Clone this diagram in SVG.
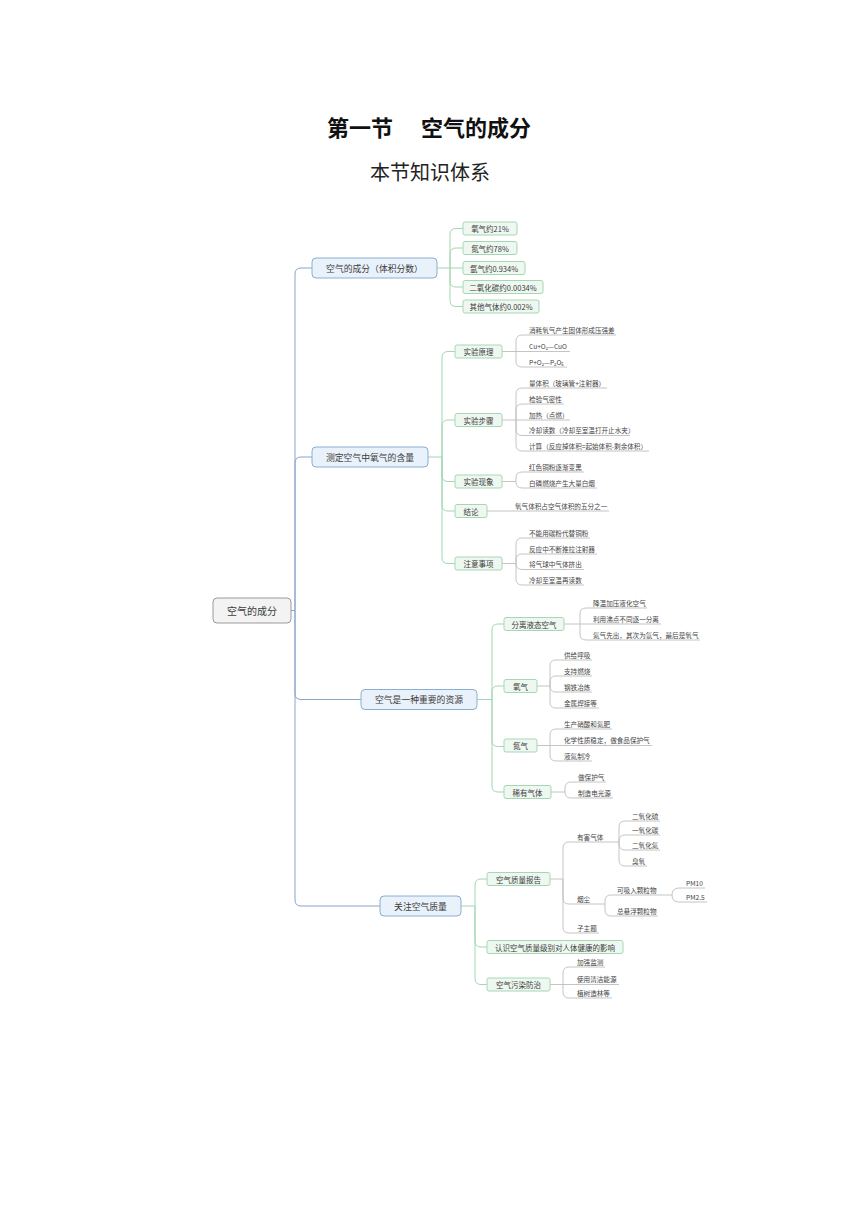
<svg xmlns="http://www.w3.org/2000/svg" width="860" height="1216" viewBox="0 0 860 1216">
<style>
text{font-family:"Noto Sans CJK SC","Noto Sans",sans-serif;fill:#3c3c3c}
.title{font-size:22px;font-weight:bold;fill:#111}
.sub{font-size:20px;fill:#222}
.root rect{fill:#f3f3f3;stroke:#9a9a9a;stroke-width:1}
.n1 rect{fill:#e9f1fa;stroke:#8aaed2;stroke-width:1}
.n2 rect{fill:#eef8f1;stroke:#a6d7b4;stroke-width:1}
.root text{font-size:10px;text-anchor:middle;dominant-baseline:central}
.n1 text{font-size:8.8px;text-anchor:middle;dominant-baseline:central}
.n2 text{font-size:7.5px;text-anchor:middle;dominant-baseline:central}
.leaf text{font-size:6.6px;fill:#444}
.c0{fill:none;stroke:#86a5c8;stroke-width:1}
.c1{fill:none;stroke:#a3d6b2;stroke-width:1}
.c2{fill:none;stroke:#bdbdbd;stroke-width:0.9}
</style>

<g id="heading">
<text class="title" y="136"><tspan x="327">第一节</tspan><tspan x="421">空气的成分</tspan></text>
<text class="sub" x="370" y="179.5">本节知识体系</text>
</g>

<g id="connectors">
<path class="c0" d="M291,610.5 H295 V274 Q295,268 301,268 H312"/>
<path class="c0" d="M295,610.5 V463 Q295,457 301,457 H312"/>
<path class="c0" d="M295,610.5 V693.5 Q295,699.5 301,699.5 H361"/>
<path class="c0" d="M295,610.5 V900 Q295,906 301,906 H380"/>
<path class="c1" d="M437,268 H450 V234.5 Q450,228.5 456,228.5 H463"/>
<path class="c1" d="M450,268 V254 Q450,248 456,248 H463"/>
<path class="c1" d="M450,268 H463"/>
<path class="c1" d="M450,268 V281 Q450,287 456,287 H463"/>
<path class="c1" d="M450,268 V300.5 Q450,306.5 456,306.5 H463"/>
<path class="c1" d="M428,457 H442 V357.5 Q442,351.5 448,351.5 H455"/>
<path class="c1" d="M442,457 V426 Q442,420 448,420 H455"/>
<path class="c1" d="M442,457 V475.5 Q442,481.5 448,481.5 H455"/>
<path class="c1" d="M442,457 V505 Q442,511 448,511 H455"/>
<path class="c1" d="M442,457 V557.5 Q442,563.5 448,563.5 H455"/>
<path class="c1" d="M477,699.5 H492 V630 Q492,624 498,624 H504"/>
<path class="c1" d="M492,699.5 V692 Q492,686 498,686 H504"/>
<path class="c1" d="M492,699.5 V740.5 Q492,746.5 498,746.5 H504"/>
<path class="c1" d="M492,699.5 V786 Q492,792 498,792 H504"/>
<path class="c1" d="M461,906 H475 V885 Q475,879 481,879 H487"/>
<path class="c1" d="M475,906 V941 Q475,947 481,947 H487"/>
<path class="c1" d="M475,906 V978.5 Q475,984.5 481,984.5 H487"/>
<path class="c2" d="M502,351.5 H516 V341 Q516,335 522,335 H616"/>
<path class="c2" d="M516,351.5 H570"/>
<path class="c2" d="M516,351.5 V361 Q516,367 522,367 H567"/>
<path class="c2" d="M502,420 H516 V394 Q516,388 522,388 H607"/>
<path class="c2" d="M516,420 V410 Q516,404 522,404 H564"/>
<path class="c2" d="M516,420 H570"/>
<path class="c2" d="M516,420 V429.5 Q516,435.5 522,435.5 H630"/>
<path class="c2" d="M516,420 V445 Q516,451 522,451 H649"/>
<path class="c2" d="M502,481.5 H516 V478 Q516,472 522,472 H584"/>
<path class="c2" d="M516,481.5 V482 Q516,488 522,488 H597"/>
<path class="c2" d="M487,511 H609"/>
<path class="c2" d="M502,563.5 H516 V544 Q516,538 522,538 H590"/>
<path class="c2" d="M516,563.5 V560 Q516,554 522,554 H597"/>
<path class="c2" d="M516,563.5 Q516,569.5 522,569.5 H584"/>
<path class="c2" d="M516,563.5 V579 Q516,585 522,585 H584"/>
<path class="c2" d="M564,624 H580 V614 Q580,608 586,608 H647"/>
<path class="c2" d="M580,624 H661"/>
<path class="c2" d="M580,624 V634 Q580,640 586,640 H700"/>
<path class="c2" d="M537,686 H550 V666 Q550,660 556,660 H592"/>
<path class="c2" d="M550,686 V682 Q550,676 556,676 H592"/>
<path class="c2" d="M550,686 Q550,692 556,692 H592"/>
<path class="c2" d="M550,686 V702 Q550,708 556,708 H599"/>
<path class="c2" d="M537,745.5 H550 V735 Q550,729 556,729 H612"/>
<path class="c2" d="M550,745.5 H652"/>
<path class="c2" d="M550,745.5 V755 Q550,761 556,761 H592"/>
<path class="c2" d="M551,792 H565 V788 Q565,782 571,782 H606"/>
<path class="c2" d="M565,792 Q565,798 571,798 H613"/>
<path class="c2" d="M550,879 H563 V848 Q563,842 569,842 H617"/>
<path class="c2" d="M563,879 V898 Q563,904 569,904 H603"/>
<path class="c2" d="M563,879 V927 Q563,933 569,933 H599"/>
<path class="c2" d="M617,842 H619 V827 Q619,821 625,821 H660"/>
<path class="c2" d="M619,842 V841 Q619,835 625,835 H660"/>
<path class="c2" d="M619,842 V844 Q619,850 625,850 H660"/>
<path class="c2" d="M619,842 V860 Q619,866 625,866 H647"/>
<path class="c2" d="M603,904 H605 V901 Q605,895 611,895 H670"/>
<path class="c2" d="M605,904 V910 Q605,916 611,916 H658"/>
<path class="c2" d="M670,895 H672 Q672,888 679,888 H705"/>
<path class="c2" d="M672,895 Q672,902 679,902 H707"/>
<path class="c2" d="M550,984.5 H563 V973 Q563,967 569,967 H605"/>
<path class="c2" d="M563,984.5 H619"/>
<path class="c2" d="M563,984.5 V992 Q563,998 569,998 H612"/>
</g>

<g id="root" class="root"><rect x="213" y="598" width="78" height="25" rx="4"/><text x="252" y="610.5">空气的成分</text></g>

<g id="n-composition" class="n1"><rect x="312" y="258" width="125" height="20" rx="4"/><text x="374.5" y="268">空气的成分（体积分数）</text></g>
<g id="n-measure" class="n1"><rect x="312" y="447" width="116" height="20" rx="4"/><text x="370" y="457">测定空气中氧气的含量</text></g>
<g id="n-resource" class="n1"><rect x="361" y="689.5" width="116" height="20" rx="4"/><text x="419" y="699.5">空气是一种重要的资源</text></g>
<g id="n-quality" class="n1"><rect x="380" y="896" width="81" height="20" rx="4"/><text x="420.5" y="906">关注空气质量</text></g>

<g id="c-o2" class="n2"><rect x="463" y="222" width="54" height="13" rx="2"/><text x="490" y="228.5">氧气约21%</text></g>
<g id="c-n2" class="n2"><rect x="463" y="241.5" width="54" height="13" rx="2"/><text x="490" y="248">氮气约78%</text></g>
<g id="c-ar" class="n2"><rect x="463" y="261.5" width="62" height="13" rx="2"/><text x="494" y="268">氩气约0.934%</text></g>
<g id="c-co2" class="n2"><rect x="463" y="280.5" width="80" height="13" rx="2"/><text x="503" y="287">二氧化碳约0.0034%</text></g>
<g id="c-other" class="n2"><rect x="463" y="300" width="76" height="13" rx="2"/><text x="501" y="306.5">其他气体约0.002%</text></g>

<g id="m-principle" class="n2"><rect x="455" y="345" width="47" height="13" rx="2"/><text x="478.5" y="351.5">实验原理</text></g>
<g id="m-steps" class="n2"><rect x="455" y="413.5" width="47" height="13" rx="2"/><text x="478.5" y="420">实验步骤</text></g>
<g id="m-phenomena" class="n2"><rect x="455" y="475" width="47" height="13" rx="2"/><text x="478.5" y="481.5">实验现象</text></g>
<g id="m-conclusion" class="n2"><rect x="455" y="504.5" width="32" height="13" rx="2"/><text x="471" y="511">结论</text></g>
<g id="m-notes" class="n2"><rect x="455" y="557" width="47" height="13" rx="2"/><text x="478.5" y="563.5">注意事项</text></g>

<g id="r-separation" class="n2"><rect x="504" y="617.5" width="60" height="13" rx="2"/><text x="534" y="624">分离液态空气</text></g>
<g id="r-oxygen" class="n2"><rect x="504" y="679.5" width="33" height="13" rx="2"/><text x="520.5" y="686">氧气</text></g>
<g id="r-nitrogen" class="n2"><rect x="504" y="739" width="33" height="13" rx="2"/><text x="520.5" y="745.5">氮气</text></g>
<g id="r-noble" class="n2"><rect x="504" y="785.5" width="47" height="13" rx="2"/><text x="527.5" y="792">稀有气体</text></g>

<g id="q-report" class="n2"><rect x="487" y="872.5" width="63" height="13" rx="2"/><text x="518.5" y="879">空气质量报告</text></g>
<g id="q-health" class="n2"><rect x="487" y="940.5" width="136" height="13" rx="2"/><text x="555" y="947">认识空气质量级别对人体健康的影响</text></g>
<g id="q-control" class="n2"><rect x="487" y="978" width="63" height="13" rx="2"/><text x="518.5" y="984.5">空气污染防治</text></g>

<g id="leaves" class="leaf">
<text x="529" y="332.5">消耗氧气产生固体形成压强差</text>
<text x="529" y="349">Cu+O₂—CuO</text>
<text x="529" y="364.5">P+O₂—P₂O₅</text>
<text x="529" y="385.5">量体积（玻璃管+注射器）</text>
<text x="529" y="401.5">检验气密性</text>
<text x="529" y="417.5">加热（点燃）</text>
<text x="529" y="433">冷却读数（冷却至室温打开止水夹）</text>
<text x="529" y="448.5">计算（反应掉体积=起始体积-剩余体积）</text>
<text x="529" y="469.5">红色铜粉逐渐变黑</text>
<text x="529" y="485.5">白磷燃烧产生大量白烟</text>
<text x="515" y="508.5">氧气体积占空气体积的五分之一</text>
<text x="529" y="535.5">不能用碳粉代替铜粉</text>
<text x="529" y="551.5">反应中不断推拉注射器</text>
<text x="529" y="567">将气球中气体挤出</text>
<text x="529" y="582.5">冷却至室温再读数</text>
<text x="593" y="605.5">降温加压液化空气</text>
<text x="593" y="621.5">利用沸点不同逐一分离</text>
<text x="593" y="637.5">氮气先出，其次为氩气，最后是氧气</text>
<text x="564" y="657.5">供给呼吸</text>
<text x="564" y="673.5">支持燃烧</text>
<text x="564" y="689.5">钢铁冶炼</text>
<text x="564" y="705.5">金属焊接等</text>
<text x="564" y="726.5">生产硝酸和氮肥</text>
<text x="564" y="743">化学性质稳定，做食品保护气</text>
<text x="564" y="758.5">液氮制冷</text>
<text x="578" y="779.5">做保护气</text>
<text x="578" y="795.5">制造电光源</text>
<text x="577" y="839.5">有害气体</text>
<text x="632" y="818.5">二氧化硫</text>
<text x="632" y="832.5">一氧化碳</text>
<text x="632" y="847.5">二氧化氮</text>
<text x="632" y="863.5">臭氧</text>
<text x="577" y="901.5">烟尘</text>
<text x="617" y="892.5">可吸入颗粒物</text>
<text x="686" y="885.5">PM10</text>
<text x="686" y="899.5">PM2.5</text>
<text x="617" y="913.5">总悬浮颗粒物</text>
<text x="577" y="930.5">子主题</text>
<text x="577" y="964.5">加强监测</text>
<text x="577" y="982">使用清洁能源</text>
<text x="577" y="995.5">植树造林等</text>
</g>
</svg>
